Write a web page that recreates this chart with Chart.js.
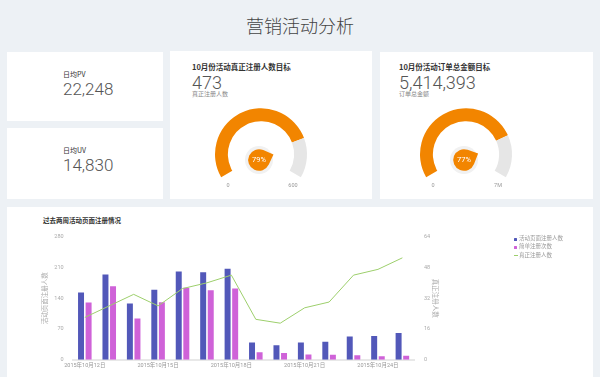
<!DOCTYPE html>
<html><head><meta charset="utf-8">
<script src="https://cdn.jsdelivr.net/npm/chart.js@4/dist/chart.umd.min.js"></script>
<style>
html,body{margin:0;padding:0;}
body{width:600px;height:377px;overflow:hidden;background:#edf1f5;position:relative;font-family:'Noto Sans CJK SC','Noto Sans',sans-serif;}
.card{position:absolute;background:#fff;}
.t{position:absolute;white-space:nowrap;line-height:1;}
.num{font-family:Roboto,'Noto Sans',sans-serif;font-weight:300;color:#555;font-size:18px;}
.lbl{font-size:7px;color:#333;}
.gt{font-size:7.5px;color:#333;font-weight:bold;}
.sub{font-size:6px;color:#888;}
canvas{position:absolute;}
.lg{position:absolute;font-size:5.5px;color:#999;line-height:1;white-space:nowrap;}
.mk{position:absolute;}
</style>
</head><body>
<div class="t" style="left:0;width:600px;text-align:center;top:16px;font-size:18px;color:#444;font-weight:300;" id="mainTitle"></div>
<div class="card" style="left:7px;top:52px;width:156px;height:69px;"></div>
<div class="card" style="left:7px;top:128px;width:156px;height:71px;"></div>
<div class="card" style="left:170px;top:51px;width:202px;height:148px;"></div>
<div class="card" style="left:380px;top:52px;width:213px;height:147px;"></div>
<div class="card" style="left:7px;top:207px;width:586px;height:180px;"></div>

<div class="t lbl" id="k0l" style="left:63px;top:71px;"></div>
<div class="t num" id="k0v" style="left:63px;top:81px;font-size:17px;"></div>
<div class="t lbl" id="k1l" style="left:63px;top:147px;"></div>
<div class="t num" id="k1v" style="left:63px;top:157px;font-size:17px;"></div>

<div class="t gt" id="g0t" style="left:192px;top:63px;"></div>
<div class="t num" id="g0v" style="left:192px;top:74px;"></div>
<div class="t sub" id="g0s" style="left:192px;top:90.7px;"></div>
<div class="t gt" id="g1t" style="left:399px;top:63px;"></div>
<div class="t num" id="g1v" style="left:399px;top:74px;"></div>
<div class="t sub" id="g1s" style="left:399px;top:90.7px;"></div>

<canvas id="gauge0" width="140" height="100" style="left:191px;top:104px;width:140px;height:100px;"></canvas>
<canvas id="gauge1" width="140" height="100" style="left:396px;top:104px;width:140px;height:100px;"></canvas>

<div class="t" id="chartTitle" style="left:43px;top:216.9px;font-size:6.5px;color:#333;font-weight:bold;"></div>
<canvas id="bars" width="586" height="170" style="left:7px;top:207px;width:586px;height:170px;"></canvas>
<div id="legend"></div>

<script>
const mainTitle = '营销活动分析';
const kpiLabels = ['日均PV', '日均UV'];
const kpiValues = [22248, 14830];

const gaugeTitles = ['10月份活动真正注册人数目标', '10月份活动订单总金额目标'];
const gaugeSubs = ['真正注册人数', '订单总金额'];
const gaugeValues = [473, 5414393];
const gaugeMax = [600, 7000000];
const gaugeMaxLabels = ['600', '7M'];

const chartTitle = '过去两周活动页面注册情况';
const dates = ['2015年10月12日','2015年10月13日','2015年10月14日','2015年10月15日','2015年10月16日','2015年10月17日','2015年10月18日','2015年10月19日','2015年10月20日','2015年10月21日','2015年10月22日','2015年10月23日','2015年10月24日','2015年10月25日'];
const seriesNames = ['活动页面注册人数', '简单注册次数', '真正注册人数'];
const pageReg = [153, 194, 128, 159, 201, 199, 207, 39, 33, 39, 41, 53, 54, 61];
const simpleReg = [130, 167, 94, 131, 164, 158, 162, 17, 15, 12, 11, 10, 8, 9];
const realReg = [22, 28, 34, 28, 37, 40, 44, 21, 19, 27, 30, 44, 47, 53];
const leftTicks = [0, 70, 140, 210, 280];
const rightTicks = [0, 16, 32, 48, 64];

const C_BLUE = '#5258b9', C_PINK = '#cf62d8', C_GREEN = '#9dcf6c', C_ORANGE = '#f28500', C_GRAY = '#e6e6e6';

document.getElementById('mainTitle').textContent = mainTitle;
kpiLabels.forEach((l, i) => {
  document.getElementById('k' + i + 'l').textContent = l;
  document.getElementById('k' + i + 'v').textContent = kpiValues[i].toLocaleString('en-US');
});
gaugeTitles.forEach((t, i) => {
  document.getElementById('g' + i + 't').textContent = t;
  document.getElementById('g' + i + 'v').textContent = gaugeValues[i].toLocaleString('en-US');
  document.getElementById('g' + i + 's').textContent = gaugeSubs[i];
});
document.getElementById('chartTitle').textContent = chartTitle;

const gaugeDeco = {
  id: 'gaugeDeco',
  afterDatasetsDraw(chart, args, opts) {
    const arc = chart.getDatasetMeta(0).data[0];
    const p = arc.getProps(['x', 'y', 'endAngle'], true);
    const ctx = chart.ctx;
    const ang = p.endAngle;
    const cx = p.x - 2, cy = p.y + 5.7;
    ctx.save();
    ctx.beginPath(); ctx.arc(cx, cy, 14, 0, Math.PI * 2); ctx.fillStyle = '#f1f1f1'; ctx.fill();
    const r = 10.8, d = 15.5, a = Math.acos(r / d);
    ctx.beginPath();
    ctx.moveTo(cx + d * Math.cos(ang), cy + d * Math.sin(ang));
    ctx.arc(cx, cy, r, ang + a, ang - a + Math.PI * 2);
    ctx.closePath();
    ctx.fillStyle = C_ORANGE; ctx.fill();
    ctx.fillStyle = '#ffffff';
    ctx.font = '400 7.5px Roboto, sans-serif';
    ctx.textAlign = 'center'; ctx.textBaseline = 'middle';
    ctx.fillText(Math.round(opts.value / opts.max * 100) + '%', cx, cy + 0.5);
    ctx.fillStyle = '#999';
    ctx.font = '5.5px Roboto, sans-serif';
    ctx.fillText('0', p.x - 33, p.y + 31);
    ctx.fillText(opts.maxLabel, p.x + 32, p.y + 31);
    ctx.restore();
  }
};

gaugeValues.forEach((v, i) => {
  new Chart(document.getElementById('gauge' + i), {
    type: 'doughnut',
    data: { datasets: [{ data: [v, gaugeMax[i] - v], backgroundColor: [C_ORANGE, C_GRAY], borderWidth: 0, hoverOffset: 0 }] },
    options: {
      responsive: false, animation: false, events: [],
      rotation: -120, circumference: 240, cutout: '72%',
      layout: { padding: { left: 24, right: 24, top: 4.3, bottom: 26.7 } },
      plugins: { legend: { display: false }, tooltip: { enabled: false },
        gaugeDeco: { value: v, max: gaugeMax[i], maxLabel: gaugeMaxLabels[i] } }
    },
    plugins: [gaugeDeco]
  });
});

const tickFont = { size: 5.5, family: "Roboto, 'Noto Sans CJK SC', sans-serif" };
const titleFont = { size: 6.5, family: "'Noto Sans CJK SC', sans-serif" };
new Chart(document.getElementById('bars'), {
  type: 'bar',
  data: {
    labels: dates,
    datasets: [
      { type: 'line', label: seriesNames[2], data: realReg, yAxisID: 'y1', borderColor: C_GREEN, borderWidth: 1, pointRadius: 0, tension: 0, fill: false, order: 0 },
      { label: seriesNames[0], data: pageReg, backgroundColor: C_BLUE, yAxisID: 'y', order: 1, categoryPercentage: 0.62, barPercentage: 0.79 },
      { label: seriesNames[1], data: simpleReg, backgroundColor: C_PINK, yAxisID: 'y', order: 1, categoryPercentage: 0.62, barPercentage: 0.79 }
    ]
  },
  options: {
    responsive: false, animation: false, events: [],
    layout: { padding: { left: 33.6, right: 153.4, top: 29.7, bottom: 0 } },
    plugins: { legend: { display: false }, tooltip: { enabled: false } },
    scales: {
      x: {
        grid: { display: false, drawTicks: false },
        border: { display: true, color: '#e8e8e8', width: 2 },
        ticks: { autoSkip: false, maxRotation: 0, padding: 3, font: tickFont, color: '#999',
          callback: (v, i) => (i % 3 === 0 ? dates[i] : '') },
        afterFit: s => { s.height = 17.3; }
      },
      y: {
        position: 'left', min: leftTicks[0], max: leftTicks[leftTicks.length - 1],
        afterBuildTicks: s => { s.ticks = leftTicks.map(v => ({ value: v })); },
        grid: { display: false, drawTicks: false }, border: { display: false },
        ticks: { padding: 9, font: tickFont, color: '#aaa' },
        title: { display: true, text: seriesNames[0], color: '#aaa', font: titleFont, padding: 0 },
        afterFit: s => { s.width = 32; }
      },
      y1: {
        position: 'right', min: rightTicks[0], max: rightTicks[rightTicks.length - 1],
        afterBuildTicks: s => { s.ticks = rightTicks.map(v => ({ value: v })); },
        grid: { display: false, drawTicks: false }, border: { display: false },
        ticks: { padding: 9.4, font: tickFont, color: '#aaa' },
        title: { display: true, text: seriesNames[2], color: '#aaa', font: titleFont, padding: 0 },
        afterFit: s => { s.width = 25; }
      }
    }
  }
});

// legend
const lg = document.getElementById('legend');
const lgColors = [C_BLUE, C_PINK, C_GREEN];
const lgY = [239, 247.4, 255.6];
seriesNames.forEach((n, i) => {
  const m = document.createElement('div');
  m.className = 'mk';
  if (i < 2) { m.style.cssText = `left:514px;top:${lgY[i] - 1.5}px;width:3px;height:3px;background:${lgColors[i]};border-radius:0.5px;`; }
  else { m.style.cssText = `left:513.5px;top:${lgY[i] - 0.5}px;width:4px;height:1px;background:${lgColors[i]};`; }
  lg.appendChild(m);
  const t = document.createElement('div');
  t.className = 'lg';
  t.style.left = '519px';
  t.style.top = (lgY[i] - 3.1) + 'px';
  t.textContent = n;
  lg.appendChild(t);
});
</script>
</body></html>
